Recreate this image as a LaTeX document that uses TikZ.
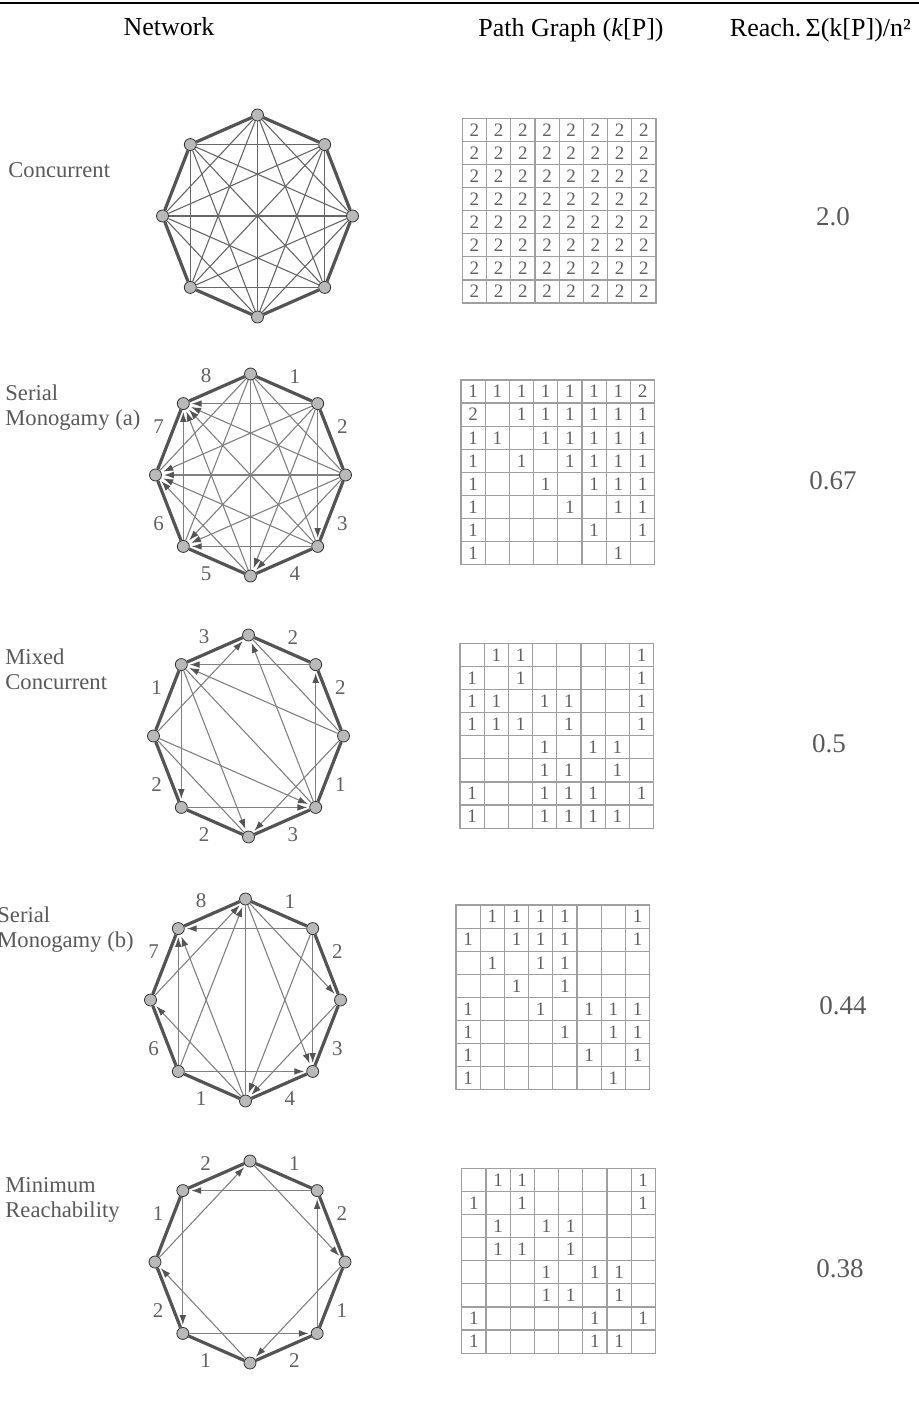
\documentclass[tikz,border=0pt]{standalone}
\usepackage{fontspec}
\setmainfont{Liberation Serif}
\usetikzlibrary{arrows.meta}

\definecolor{rimgray}{gray}{0.33}
\definecolor{chordgray}{gray}{0.5}
\definecolor{txtgray}{gray}{0.38}

% eight vertices on a flattened circle, 1 on top, counted clockwise
\newcommand{\octnodes}[3]{%
  \foreach \i in {1,...,8}
    \node[vtx] (#1\i) at ({#2+95*cos(135-45*\i)},{#3-101*sin(135-45*\i)}) {};
}
% 8x8 path graph, one list per row, 0 = empty cell
\newcommand{\pathgrid}[4]{%
  \foreach \rw [count=\ri] in {#4}
    \foreach \v [count=\ci] in \rw
      \node[kcell] (#1-\ri-\ci) at ({#2+24.2*(\ci-0.5)},{#3+23.1*(\ri-0.5)}) {\ifnum\v>0 \v\fi};
}

\begin{document}
\begin{tikzpicture}[x=0.5pt,y=-0.5pt,
  vtx/.style={circle,fill=gray!55,draw=gray!40!black,line width=0.4pt,inner sep=0,minimum size=6pt},
  rim/.style={rimgray,line width=1.6pt},
  chord/.style={chordgray,line width=0.55pt},
  reach/.style={chord,-{Latex[length=5pt,width=3.4pt,color=rimgray]},shorten >=1pt},
  lab/.style={auto,font=\fontsize{10.5}{11}\selectfont,text=txtgray,inner sep=2pt},
  kcell/.style={draw=gray!75,line width=0.6pt,minimum width=12.1pt,minimum height=11.55pt,
    inner sep=0,outer sep=0,font=\fontsize{9.5}{10}\selectfont,text=txtgray},
  rowlab/.style={anchor=west,align=left,inner sep=0,font=\fontsize{11.3}{12.5}\selectfont,text=black!65},
  val/.style={font=\fontsize{13.5}{14}\selectfont,text=black!65},
  colhead/.style={font=\fontsize{13}{14}\selectfont}]
\useasboundingbox (0,0) rectangle (919,1411);

\draw[line width=1.4pt] (0,3) -- (919,3);
\node[colhead] (hnet) at (169,27) {Network};
\node[colhead] (hpath) at (571,30) {Path Graph (\textit{k}[P])};
\node[colhead,anchor=east] (hreach) at (918,30) {Reach.\,Σ(k[P])/n²};

% concurrent
\node[rowlab] (lconc) at (8,170) {Concurrent};
\octnodes{a}{257.5}{216}
\foreach \i/\j in {1/2,2/3,3/4,4/5,5/6,6/7,7/8,8/1} \draw[rim] (a\i) -- (a\j);
\foreach \i/\j in {1/3,1/4,1/5,1/6,1/7,2/4,2/5,2/6,2/7,2/8,3/5,3/6,3/7,3/8,4/6,4/7,4/8,5/7,5/8,6/8}
  \draw[chord,black!60] (a\i) -- (a\j);
\pathgrid{pa}{462.3}{118.3}{{2,2,2,2,2,2,2,2},{2,2,2,2,2,2,2,2},{2,2,2,2,2,2,2,2},{2,2,2,2,2,2,2,2},
  {2,2,2,2,2,2,2,2},{2,2,2,2,2,2,2,2},{2,2,2,2,2,2,2,2},{2,2,2,2,2,2,2,2}}
\node[val] (ra) at (833,217) {2.0};

% serial monogamy (a)
\node[rowlab] (lsera) at (5,408) {Serial\\Monogamy (a)};
\octnodes{b}{250.5}{475}
\foreach \i/\j/\w in {1/2/1,2/3/2,3/4/3,4/5/4,5/6/5,6/7/6,7/8/7,8/1/8}
  \draw[rim] (b\i) -- node[lab] {\w} (b\j);
\foreach \i/\j in {1/3,1/4,1/5,1/6,1/7} \draw[chord] (b\i) -- (b\j);
\foreach \i/\j in {2/4,2/5,2/6,2/7,2/8,3/5,3/6,3/7,3/8,4/6,4/7,4/8,5/7,5/8,6/8}
  \draw[reach] (b\i) -- (b\j);
\pathgrid{pb}{461}{380}{{1,1,1,1,1,1,1,2},{2,0,1,1,1,1,1,1},{1,1,0,1,1,1,1,1},{1,0,1,0,1,1,1,1},
  {1,0,0,1,0,1,1,1},{1,0,0,0,1,0,1,1},{1,0,0,0,0,1,0,1},{1,0,0,0,0,0,1,0}}
\node[val] (rb) at (833,481) {0.67};

% mixed concurrent
\node[rowlab] (lmix) at (5,669) {Mixed\\Concurrent};
\octnodes{c}{248.5}{736}
\foreach \i/\j/\w in {1/2/2,2/3/2,3/4/1,4/5/3,5/6/2,6/7/2,7/8/1,8/1/3}
  \draw[rim] (c\i) -- node[lab] {\w} (c\j);
\foreach \i/\j in {1/3,5/7,4/8} \draw[chord] (c\i) -- (c\j);
\foreach \i/\j in {2/8,3/8,4/2,4/1,8/6,8/5,7/4,7/1,6/4,3/5}
  \draw[reach] (c\i) -- (c\j);
\pathgrid{pc}{460}{643.3}{{0,1,1,0,0,0,0,1},{1,0,1,0,0,0,0,1},{1,1,0,1,1,0,0,1},{1,1,1,0,1,0,0,1},
  {0,0,0,1,0,1,1,0},{0,0,0,1,1,0,1,0},{1,0,0,1,1,1,0,1},{1,0,0,1,1,1,1,0}}
\node[val] (rc) at (829,744) {0.5};

% serial monogamy (b)
\node[rowlab] (lserb) at (-3,930) {Serial\\Monogamy (b)};
\octnodes{d}{245.5}{1000}
\foreach \i/\j/\w in {1/2/1,2/3/2,3/4/3,4/5/4,5/6/1,6/7/6,7/8/7,8/1/8}
  \draw[rim] (d\i) -- node[lab] {\w} (d\j);
\draw[chord] (d1) -- (d5);
\foreach \i/\j in {1/3,1/4,2/4,2/5,2/8,3/5,5/7,5/8,6/8,6/1,6/4,7/1}
  \draw[reach] (d\i) -- (d\j);
\pathgrid{pd}{456}{905}{{0,1,1,1,1,0,0,1},{1,0,1,1,1,0,0,1},{0,1,0,1,1,0,0,0},{0,0,1,0,1,0,0,0},
  {1,0,0,1,0,1,1,1},{1,0,0,0,1,0,1,1},{1,0,0,0,0,1,0,1},{1,0,0,0,0,0,1,0}}
\node[val] (rd) at (843,1006) {0.44};

% minimum reachability
\node[rowlab] (lmin) at (5,1200) {Minimum\\Reachability};
\octnodes{e}{250}{1262}
\foreach \i/\j/\w in {1/2/1,2/3/2,3/4/1,4/5/2,5/6/1,6/7/2,7/8/1,8/1/2}
  \draw[rim] (e\i) -- node[lab] {\w} (e\j);
\foreach \i/\j in {1/3,2/8,3/5,4/2,5/7,6/4,7/1,8/6}
  \draw[reach] (e\i) -- (e\j);
\pathgrid{pe}{461.7}{1168.3}{{0,1,1,0,0,0,0,1},{1,0,1,0,0,0,0,1},{0,1,0,1,1,0,0,0},{0,1,1,0,1,0,0,0},
  {0,0,0,1,0,1,1,0},{0,0,0,1,1,0,1,0},{1,0,0,0,0,1,0,1},{1,0,0,0,0,1,1,0}}
\node[val] (re) at (840,1269) {0.38};
\end{tikzpicture}
\end{document}
